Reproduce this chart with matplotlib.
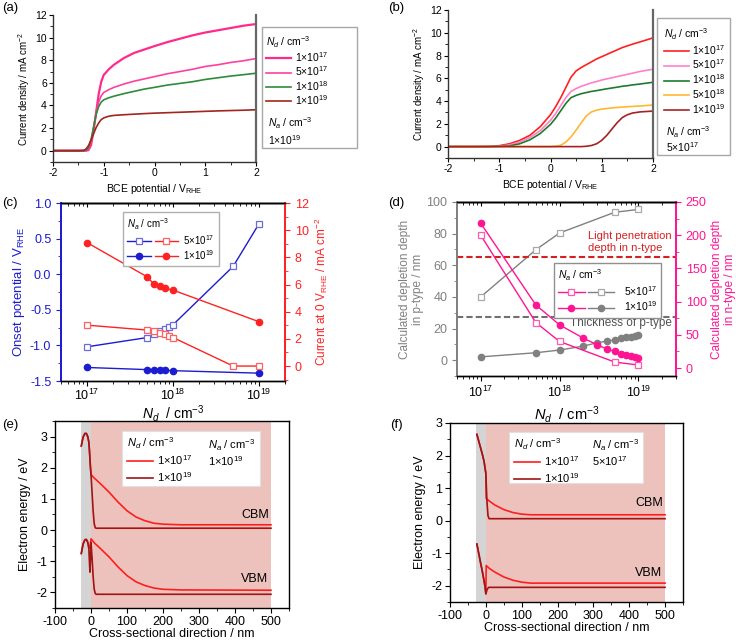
import matplotlib
matplotlib.use('Agg')
import matplotlib.pyplot as plt
from matplotlib.lines import Line2D
from matplotlib.patches import Rectangle
from matplotlib.legend_handler import HandlerTuple
from matplotlib.ticker import MultipleLocator, LogLocator, NullFormatter

plt.rcParams['font.family'] = ['Liberation Sans', 'DejaVu Sans']
plt.rcParams['mathtext.fontset'] = 'custom'
plt.rcParams['mathtext.rm'] = 'Liberation Sans'
plt.rcParams['mathtext.it'] = 'Liberation Sans:italic'
plt.rcParams['mathtext.bf'] = 'Liberation Sans:bold'
plt.rcParams['axes.linewidth'] = 1.0
plt.rcParams['axes.unicode_minus'] = False


# --------------------------------- #
# (a) J-V, Na = 1e19

pot_a = [-2.0, -1.5, -1.4, -1.35, -1.3, -1.25, -1.2, -1.15, -1.1, -1.05, -1.0, -0.9, -0.8,
         -0.6, -0.4, -0.2, 0.0, 0.25, 0.5, 0.75, 1.0, 1.25, 1.5, 1.75, 2.0]
j_a_1e17 = [0, 0, 0, 0.0, 0.05, 0.5, 1.8, 3.4, 5.0, 6.1, 6.7, 7.2, 7.6,
            8.2, 8.65, 8.95, 9.25, 9.6, 9.9, 10.2, 10.45, 10.65, 10.85, 11.05, 11.2]
j_a_5e17 = [0, 0, 0, 0.02, 0.15, 0.8, 2.0, 3.3, 4.3, 4.85, 5.15, 5.4, 5.6,
            5.9, 6.15, 6.35, 6.55, 6.8, 7.0, 7.2, 7.45, 7.6, 7.8, 7.95, 8.15]
j_a_1e18 = [0, 0, 0, 0.05, 0.3, 1.0, 2.1, 3.2, 3.9, 4.3, 4.5, 4.68, 4.82,
            5.05, 5.25, 5.45, 5.6, 5.8, 5.95, 6.1, 6.3, 6.45, 6.6, 6.72, 6.85]
j_a_1e19 = [0, 0, 0.02, 0.15, 0.45, 0.95, 1.5, 2.05, 2.45, 2.75, 2.9, 3.05, 3.12,
            3.18, 3.23, 3.28, 3.32, 3.36, 3.4, 3.44, 3.48, 3.52, 3.55, 3.58, 3.62]
labels_a = ['1×10$^{17}$', '5×10$^{17}$', '1×10$^{18}$', '1×10$^{19}$']

# (b) J-V, Na = 5e17
pot_b = [-2.0, -1.5, -1.2, -1.0, -0.8, -0.6, -0.4, -0.2, 0.0, 0.1, 0.2, 0.3, 0.4, 0.5,
         0.6, 0.7, 0.8, 0.9, 1.0, 1.1, 1.2, 1.3, 1.4, 1.5, 1.6, 1.75, 2.0]
j_b_1e17 = [0, 0, 0.02, 0.08, 0.25, 0.55, 1.0, 1.75, 2.8, 3.5, 4.3, 5.2, 6.1, 6.65,
            6.95, 7.2, 7.45, 7.7, 7.9, 8.1, 8.3, 8.5, 8.7, 8.85, 9.0, 9.2, 9.55]
j_b_5e17 = [0, 0, 0, 0.03, 0.15, 0.4, 0.8, 1.4, 2.3, 2.9, 3.6, 4.3, 4.85, 5.1,
            5.3, 5.45, 5.6, 5.72, 5.85, 5.95, 6.05, 6.15, 6.25, 6.35, 6.45, 6.6, 6.8]
j_b_1e18 = [0, 0, 0, 0.02, 0.06, 0.25, 0.6, 1.15, 1.95, 2.5, 3.15, 3.8, 4.3, 4.5,
            4.65, 4.75, 4.85, 4.92, 5.0, 5.08, 5.15, 5.22, 5.3, 5.35, 5.42, 5.5, 5.65]
j_b_5e18 = [0, 0, 0, 0, 0, 0, 0, 0, 0, 0.03, 0.12, 0.4, 0.85, 1.45,
            2.1, 2.7, 3.05, 3.2, 3.3, 3.35, 3.4, 3.44, 3.47, 3.5, 3.53, 3.57, 3.65]
j_b_1e19 = [0, 0, 0, 0, 0, 0, 0, 0, 0, 0, 0, 0, 0, 0,
            0, 0.03, 0.1, 0.25, 0.55, 1.0, 1.55, 2.1, 2.55, 2.8, 2.95, 3.05, 3.12]
labels_b = ['1×10$^{17}$', '5×10$^{17}$', '1×10$^{18}$', '5×10$^{18}$', '1×10$^{19}$']

# (c) onset potential and current at 0 V
nd_c_5e17 = [1e17, 5e17, 6e17, 7e17, 8e17, 9e17, 1e18, 5e18, 1e19]
onset_5e17 = [-1.02, -0.89, -0.84, -0.80, -0.77, -0.74, -0.71, 0.11, 0.71]
current_5e17 = [3.01, 2.65, 2.57, 2.45, 2.33, 2.2, 2.1, 0.0, 0.0]
nd_c_1e19 = [1e17, 5e17, 6e17, 7e17, 8e17, 1e18, 1e19]
onset_1e19 = [-1.31, -1.34, -1.345, -1.345, -1.35, -1.355, -1.39]
current_1e19 = [9.09, 6.57, 6.03, 5.88, 5.71, 5.59, 3.26]

# (d) depletion depths
nd_d_5e17 = [1e17, 5e17, 1e18, 5e18, 1e19]
dep_p_5e17 = [40, 69.8, 80.4, 93.5, 95.3]
dep_n_5e17 = [200, 68.5, 40, 9, 4.5]
nd_d_1e19 = [1e17, 5e17, 1e18, 2e18, 3e18, 4e18, 5e18, 6e18, 7e18, 8e18, 9e18, 1e19]
dep_p_1e19 = [2.1, 4.7, 6.4, 8.9, 11.0, 12.1, 12.8, 13.8, 14.5, 14.9, 15.3, 15.7]
dep_n_1e19 = [218, 95, 65, 45, 35, 28.5, 25, 21.5, 19.5, 17.5, 16, 14.5]
light_penetration = 65.5
p_thickness = 27.5

# (e) band diagram, Na = 1e19
p_layer = (-27, 0)
n_layer = (0, 500)
e_cbm_17_x = [-27, -22, -17, -13, -9, -6, -4, -2, 0, 10, 25, 50, 75, 100, 125, 150, 175, 200, 250, 500]
e_cbm_17_y = [2.7, 2.98, 3.1, 3.1, 3.0, 2.82, 2.5, 2.1, 1.78, 1.66, 1.5, 1.22, 0.9, 0.62, 0.42, 0.3,
              0.22, 0.19, 0.17, 0.17]
e_cbm_19_x = [-27, -22, -17, -13, -9, -6, -4, -2, 0, 3, 6, 9, 12, 15, 500]
e_cbm_19_y = [2.7, 2.98, 3.1, 3.1, 3.0, 2.82, 2.5, 2.1, 1.78, 1.2, 0.6, 0.2, 0.07, 0.06, 0.06]
e_vbm_17_x = [-27, -22, -17, -13, -9, -5, -2, 0, 10, 25, 50, 75, 100, 125, 150, 175, 200, 250, 500]
e_vbm_17_y = [-0.75, -0.45, -0.31, -0.3, -0.38, -0.58, -0.5, -0.28, -0.42, -0.58, -0.86, -1.18, -1.46,
              -1.66, -1.78, -1.86, -1.9, -1.92, -1.93]
e_vbm_19_x = [-27, -22, -17, -13, -9, -6, -4, -3, -1, 0, 3, 6, 9, 12, 15, 500]
e_vbm_19_y = [-0.75, -0.45, -0.31, -0.3, -0.4, -0.6, -1.1, -1.35, -0.8, -0.4, -0.9, -1.5, -1.9, -2.04,
              -2.06, -2.06]

# (f) band diagram, Na = 5e17
f_cbm_17_x = [-25, -20, -15, -10, -5, -2, 0, 1, 10, 25, 50, 75, 100, 125, 500]
f_cbm_17_y = [2.65, 2.45, 2.25, 2.05, 1.82, 1.6, 1.45, 0.68, 0.6, 0.48, 0.34, 0.25, 0.2, 0.18, 0.18]
f_cbm_19_x = [-25, -20, -15, -10, -5, -2, 0, 3, 6, 9, 500]
f_cbm_19_y = [2.65, 2.45, 2.25, 2.05, 1.82, 1.6, 1.45, 0.6, 0.15, 0.06, 0.06]
f_vbm_17_x = [-25, -20, -15, -10, -5, -2, 0, 1, 10, 25, 50, 75, 100, 125, 500]
f_vbm_17_y = [-0.72, -1.0, -1.28, -1.55, -1.85, -2.05, -2.25, -1.38, -1.47, -1.58, -1.73, -1.83, -1.89,
              -1.92, -1.92]
f_vbm_19_x = [-25, -20, -15, -10, -5, -2, 0, 4, 8, 500]
f_vbm_19_y = [-0.72, -1.0, -1.28, -1.55, -1.85, -2.05, -2.25, -2.1, -2.05, -2.05]


# --------------------------------- #

W, H = 736, 643
fig = plt.figure(figsize=(W / 100, H / 100), dpi=100)


def px_axes(l, t, r, b):
    a = fig.add_axes([l / W, 1 - b / H, (r - l) / W, (b - t) / H])
    a.patch.set_visible(False)
    return a


def fx(x):
    return x / W


def fy(y):
    return 1 - y / H


def log_minor(ax):
    ax.xaxis.set_major_locator(LogLocator(base=10, numticks=10))
    ax.xaxis.set_minor_locator(LogLocator(base=10, subs=range(2, 10), numticks=20))
    ax.xaxis.set_minor_formatter(NullFormatter())


for lab, x, y in [('(a)', 2, 8), ('(b)', 388, 8), ('(c)', 2, 203),
                  ('(d)', 388, 203), ('(e)', 2, 425), ('(f)', 390, 425)]:
    fig.text(fx(x), fy(y), lab, fontsize=9.5, va='center', ha='left')


# --------------------------------- #
# (a)

ax = px_axes(53, 15, 256, 162)
cols_a = ['#FF2A8C', '#FF3FA0', '#2E8B3A', '#A0261E']
lws_a = [1.6, 1.2, 1.2, 1.2]
for y, c, lw in zip([j_a_1e17, j_a_5e17, j_a_1e18, j_a_1e19], cols_a, lws_a):
    ax.plot(pot_a, y, color=c, lw=lw)
ax.set_xlim(-2, 2)
ax.set_ylim(-1, 12)
ax.xaxis.set_major_locator(MultipleLocator(1))
ax.xaxis.set_minor_locator(MultipleLocator(0.5))
ax.yaxis.set_major_locator(MultipleLocator(2))
ax.yaxis.set_minor_locator(MultipleLocator(1))
ax.spines['top'].set_visible(False)
for s in ['left', 'bottom']:
    ax.spines[s].set_color('#333333')
ax.spines['right'].set_color('#666666')
ax.spines['right'].set_linewidth(1.6)
ax.tick_params(which='both', direction='out', labelsize=7.5, length=3, pad=1.5)
ax.tick_params(which='minor', length=2)
ax.set_xlabel('BCE potential / V$_{\\mathrm{RHE}}$', fontsize=7.5, labelpad=3)
ax.set_ylabel('Current density / mA cm$^{-2}$', fontsize=7, labelpad=2)

fig.add_artist(Rectangle((fx(262), fy(148)), 95 / W, 121 / H, transform=fig.transFigure,
                         fill=False, ec='#A8A8A8', lw=1.0))
handles = [Line2D([], [], color=c, lw=lw) for c, lw in zip(cols_a, lws_a)]
leg = fig.legend(handles, labels_a, title='$N_d$ / cm$^{-3}$', loc='upper left',
                 bbox_to_anchor=(fx(264), fy(32)), frameon=False, fontsize=7.5,
                 title_fontsize=7.5, alignment='left', handlelength=2.4, handletextpad=0.4,
                 labelspacing=0.05, borderpad=0.2, borderaxespad=0)
fig.text(fx(268), fy(123), '$N_a$ / cm$^{-3}$', fontsize=7.5, va='center')
fig.text(fx(268), fy(140), '1×10$^{19}$', fontsize=7.5, va='center')


# --------------------------------- #
# (b)

ax = px_axes(448, 10, 653, 158)
cols_b = ['#FF2020', '#FF80C8', '#1E7B2E', '#FFB733', '#A52222']
for y, c in zip([j_b_1e17, j_b_5e17, j_b_1e18, j_b_5e18, j_b_1e19], cols_b):
    ax.plot(pot_b, y, color=c, lw=1.2)
ax.set_xlim(-2, 2)
ax.set_ylim(-1, 12)
ax.xaxis.set_major_locator(MultipleLocator(1))
ax.xaxis.set_minor_locator(MultipleLocator(0.5))
ax.yaxis.set_major_locator(MultipleLocator(2))
ax.yaxis.set_minor_locator(MultipleLocator(1))
ax.spines['top'].set_visible(False)
for s in ['left', 'bottom']:
    ax.spines[s].set_color('#333333')
ax.spines['right'].set_color('#666666')
ax.spines['right'].set_linewidth(1.6)
ax.tick_params(which='both', direction='out', labelsize=7.5, length=3, pad=1.5)
ax.tick_params(which='minor', length=2)
ax.set_xlabel('BCE potential / V$_{\\mathrm{RHE}}$', fontsize=7.5, labelpad=3)
ax.set_ylabel('Current density / mA cm$^{-2}$', fontsize=7, labelpad=2)

fig.add_artist(Rectangle((fx(657), fy(155)), 73 / W, 137 / H, transform=fig.transFigure,
                         fill=False, ec='#A8A8A8', lw=1.0))
handles = [Line2D([], [], color=c, lw=1.2) for c in cols_b]
fig.legend(handles, labels_b, title='$N_d$ / cm$^{-3}$', loc='upper left',
           bbox_to_anchor=(fx(662), fy(24)), frameon=False, fontsize=7.5,
           title_fontsize=7.5, alignment='left', handlelength=2.4, handletextpad=0.3,
           labelspacing=0.1, borderpad=0.2, borderaxespad=0)
fig.text(fx(666), fy(132), '$N_a$ / cm$^{-3}$', fontsize=7.5, va='center')
fig.text(fx(666), fy(147), '5×10$^{17}$', fontsize=7.5, va='center')


# --------------------------------- #
# (c)

blue = '#1C1CD0'
blue_l = '#6A6AD8'
red = '#FF2222'
red_l = '#FF6060'

ax = px_axes(61, 203, 285, 381)
ax.set_xscale('log')
l1, = ax.plot(nd_c_5e17, onset_5e17, color=blue, lw=1.0, marker='s', ms=4.5, mfc='white',
              mec=blue_l, mew=0.9)
l2, = ax.plot(nd_c_1e19, onset_1e19, color=blue, lw=1.0, marker='o', ms=4.5, mec=blue)
ax.set_xlim(5e16, 2e19)
ax.set_ylim(-1.5, 1.0)
ax.yaxis.set_major_locator(MultipleLocator(0.5))
ax.yaxis.set_minor_locator(MultipleLocator(0.25))
log_minor(ax)
ax2 = ax.twinx()
ax2.patch.set_visible(False)
l3, = ax2.plot(nd_c_5e17, current_5e17, color=red, lw=1.0, marker='s', ms=4.5, mfc='white',
               mec=red_l, mew=0.9)
l4, = ax2.plot(nd_c_1e19, current_1e19, color=red, lw=1.0, marker='o', ms=4.5, mec=red)
ax2.set_ylim(-1.1, 12)
ax2.yaxis.set_major_locator(MultipleLocator(2))
ax2.yaxis.set_minor_locator(MultipleLocator(1))
for a in (ax, ax2):
    a.spines['left'].set_color(blue)
    a.spines['right'].set_color(red)
    a.spines['left'].set_linewidth(1.3)
    a.spines['right'].set_linewidth(1.3)
ax.tick_params(axis='y', which='both', colors=blue, labelsize=9, direction='out', length=3.5)
ax.tick_params(axis='y', which='minor', length=2)
ax2.tick_params(axis='y', which='both', colors=red, labelsize=9, direction='out', length=3.5)
ax2.tick_params(axis='y', which='minor', length=2)
ax.tick_params(axis='x', which='both', labelsize=9, direction='out', length=3.5, pad=1.5)
ax.tick_params(axis='x', which='minor', length=2)
sec = ax.secondary_xaxis('top')
sec.tick_params(which='both', direction='in', labeltop=False, length=3)
sec.tick_params(which='minor', length=2)
sec.xaxis.set_minor_locator(LogLocator(base=10, subs=range(2, 10), numticks=20))
sec.xaxis.set_minor_formatter(NullFormatter())
ax.set_xlabel('$N_d$  / cm$^{-3}$', fontsize=10, labelpad=0)
ax.set_ylabel('Onset potential / V$_{\\mathrm{RHE}}$', fontsize=9.5, color=blue, labelpad=2)
ax2.set_ylabel('Current at 0 V$_{\\mathrm{RHE}}$ / mA cm$^{-2}$', fontsize=8.5, color=red,
               labelpad=3)
ax2.legend([(l1, l3), (l2, l4)], ['5×10$^{17}$', '1×10$^{19}$'],
           handler_map={tuple: HandlerTuple(ndivide=None, pad=0.4)},
           title='$N_a$ / cm$^{-3}$', alignment='left', loc='upper left',
           bbox_to_anchor=(fx(123), fy(212)), bbox_transform=fig.transFigure,
           fontsize=7, title_fontsize=7, handlelength=5.2, handletextpad=0.5,
           borderpad=0.45, labelspacing=0.1, fancybox=False, edgecolor='#B0B0B0',
           framealpha=1, borderaxespad=0)


# --------------------------------- #
# (d)

gray = '#808080'
gray_l = '#A8A8A8'
pink = '#FF1493'
pink_l = '#FF5AAE'

ax = px_axes(457, 202, 676, 376)
ax.set_xscale('log')
g1, = ax.plot(nd_d_5e17, dep_p_5e17, color=gray, lw=1.0, marker='s', ms=4.5, mfc='white',
              mec=gray_l, mew=0.9)
g2, = ax.plot(nd_d_1e19, dep_p_1e19, color=gray, lw=1.0, marker='o', ms=4.5, mec=gray)
ax.axhline(light_penetration, color='#D42020', lw=1.5, ls=(0, (3, 1.5)))
ax.axhline(p_thickness, color='#707070', lw=1.5, ls=(0, (3, 1.5)))
ax.set_xlim(5e16, 3e19)
ax.set_ylim(-10, 100)
ax.yaxis.set_major_locator(MultipleLocator(20))
ax.yaxis.set_minor_locator(MultipleLocator(10))
log_minor(ax)
ax.text(0.6, 0.77, 'Light penetration\ndepth in n-type', transform=ax.transAxes,
        color='#D42020', fontsize=8, va='center', ha='left', linespacing=1.2)
ax.text(0.516, 0.305, 'Thickness of p-type', transform=ax.transAxes,
        color='#505050', fontsize=8.5, va='center', ha='left')
ax2 = ax.twinx()
ax2.patch.set_visible(False)
p1, = ax2.plot(nd_d_5e17, dep_n_5e17, color=pink, lw=1.0, marker='s', ms=4.5, mfc='white',
               mec=pink_l, mew=0.9)
p2, = ax2.plot(nd_d_1e19, dep_n_1e19, color=pink, lw=1.0, marker='o', ms=4.5, mec=pink)
ax2.set_ylim(-12, 250)
ax2.yaxis.set_major_locator(MultipleLocator(50))
ax2.yaxis.set_minor_locator(MultipleLocator(25))
for a in (ax, ax2):
    a.spines['left'].set_color(gray)
    a.spines['right'].set_color(pink)
    a.spines['left'].set_linewidth(1.3)
    a.spines['right'].set_linewidth(1.3)
ax.tick_params(axis='y', which='both', colors=gray, labelsize=9, direction='out', length=3.5)
ax.tick_params(axis='y', which='minor', length=2)
ax2.tick_params(axis='y', which='both', colors=pink, labelsize=9, direction='out', length=3.5)
ax2.tick_params(axis='y', which='minor', length=2)
ax.tick_params(axis='x', which='both', labelsize=9, direction='out', length=3.5, pad=3)
ax.tick_params(axis='x', which='minor', length=2)
sec = ax.secondary_xaxis('top')
sec.tick_params(which='both', direction='in', labeltop=False, length=3)
sec.tick_params(which='minor', length=2)
sec.xaxis.set_minor_locator(LogLocator(base=10, subs=range(2, 10), numticks=20))
sec.xaxis.set_minor_formatter(NullFormatter())
ax.set_xlabel('$N_d$  / cm$^{-3}$', fontsize=10.5, labelpad=3)
ax.set_ylabel('Calculated depletion depth\nin p-type / nm', fontsize=8.5, color=gray,
              labelpad=2, linespacing=1.1)
ax2.set_ylabel('Calculated depletion depth\nin n-type / nm', fontsize=8.5, color=pink,
               labelpad=3, linespacing=1.1)
ax2.legend([(p1, g1), (p2, g2)], ['5×10$^{17}$', '1×10$^{19}$'],
           handler_map={tuple: HandlerTuple(ndivide=None, pad=0.3)},
           title='$N_a$ / cm$^{-3}$', alignment='left', loc='upper left',
           bbox_to_anchor=(fx(554), fy(263)), bbox_transform=fig.transFigure,
           fontsize=7.5, title_fontsize=7.5, handlelength=5.4, handletextpad=0.9,
           borderpad=0.4, labelspacing=0.15, fancybox=False, edgecolor='#909090',
           framealpha=1, borderaxespad=0)


# --------------------------------- #
# (e), (f)

red_b = '#FF1E1E'
dark_b = '#A01414'


def band_panel(box, curves, ylim, ymaj, na_label, leg_box, cbm_y, vbm_y):
    ax = px_axes(*box)
    ax.axvspan(*p_layer, color='#D4D4D4', lw=0, zorder=0)
    ax.axvspan(*n_layer, color='#EDC2BD', lw=0, zorder=0)
    for (x, y), c in zip(curves, [red_b, dark_b, red_b, dark_b]):
        ax.plot(x, y, color=c, lw=1.2)
    ax.set_xlim(-100, 550)
    ax.set_ylim(*ylim)
    ax.xaxis.set_major_locator(MultipleLocator(100))
    ax.xaxis.set_minor_locator(MultipleLocator(50))
    ax.yaxis.set_major_locator(MultipleLocator(ymaj))
    ax.yaxis.set_minor_locator(MultipleLocator(0.5))
    ax.tick_params(which='both', direction='out', labelsize=9, length=3.5, pad=2)
    ax.tick_params(which='minor', length=2)
    ax.set_xlabel('Cross-sectional direction / nm', fontsize=9, labelpad=0)
    ax.set_ylabel('Electron energy / eV', fontsize=9, labelpad=4)
    ax.text(455, cbm_y, 'CBM', fontsize=9, ha='center', va='center')
    ax.text(453, vbm_y, 'VBM', fontsize=9, ha='center', va='center')

    l, t, r, b = box
    bl, bt, br, bb = leg_box
    x0 = (bl - l) / (r - l)
    x1 = (br - l) / (r - l)
    y0 = 1 - (bb - t) / (b - t)
    y1 = 1 - (bt - t) / (b - t)
    ax.add_patch(Rectangle((x0, y0), x1 - x0, y1 - y0, transform=ax.transAxes,
                           fc='white', ec='#E0E0E0', lw=0.8, zorder=5))
    handles = [Line2D([], [], color=c, lw=1.2) for c in (red_b, dark_b)]
    leg = ax.legend(handles, ['1×10$^{17}$', '1×10$^{19}$'], title='$N_d$ / cm$^{-3}$',
                    alignment='left', loc='upper left', bbox_to_anchor=(x0 + 0.01, y1 - 0.01),
                    frameon=False, fontsize=8, title_fontsize=8, handlelength=2.4,
                    handletextpad=0.3, labelspacing=0.25, borderpad=0.2, borderaxespad=0)
    leg.set_zorder(6)
    xa = x0 + (x1 - x0) * 0.62
    ax.text(xa, y1 - 0.075, '$N_a$ / cm$^{-3}$', transform=ax.transAxes, fontsize=8,
            va='center', zorder=7)
    ax.text(xa, y1 - 0.16, na_label, transform=ax.transAxes, fontsize=8, va='center', zorder=7)
    return ax


band_panel((55, 421, 289, 608),
           [(e_cbm_17_x, e_cbm_17_y), (e_cbm_19_x, e_cbm_19_y),
            (e_vbm_17_x, e_vbm_17_y), (e_vbm_19_x, e_vbm_19_y)],
           (-2.5, 3.5), 1, '1×10$^{19}$', (122, 431, 260, 486), 0.48, -1.58)

band_panel((450, 423, 683, 602),
           [(f_cbm_17_x, f_cbm_17_y), (f_cbm_19_x, f_cbm_19_y),
            (f_vbm_17_x, f_vbm_17_y), (f_vbm_19_x, f_vbm_19_y)],
           (-2.5, 3.0), 1, '5×10$^{17}$', (509, 432, 643, 483), 0.53, -1.6)

fig.savefig('out.png', dpi=100)
